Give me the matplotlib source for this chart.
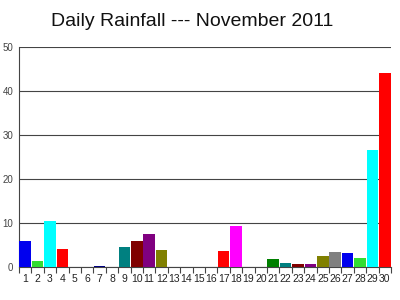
import matplotlib
matplotlib.use('Agg')
import matplotlib.pyplot as plt
import numpy as np

plt.rcParams['font.family'] = ['Liberation Sans', 'DejaVu Sans']

days = list(range(1, 31))
rain = [5.8, 1.4, 10.4, 4.1, 0.0, 0.0, 0.3, 0.0, 4.5, 5.9,
        7.6, 3.9, 0.0, 0.0, 0.0, 0.0, 3.6, 9.4, 0.0, 0.0,
        1.9, 0.8, 0.7, 0.7, 2.5, 3.4, 3.1, 2.1, 26.5, 44.0]
palette = ['#0000ee', '#33dd33', '#00ffff', '#ff0000', '#ff00ff', '#ffff00',
           '#000080', '#008000', '#008080', '#800000', '#800080', '#808000',
           '#808080']
colors = [palette[(d - 1) % 13] for d in days]

fig = plt.figure(figsize=(4, 3), dpi=100)
ax = fig.add_axes([0.0475, 0.11, 0.93, 0.733])

ax.bar(days, rain, width=0.92, color=colors, zorder=3)

ax.set_xlim(0.5, 30.5)
ax.set_ylim(0, 50)
ax.set_yticks([0, 10, 20, 30, 40, 50])
ax.grid(axis='y', color='#444444', linewidth=0.8, zorder=1)
for s in ['top', 'right']:
    ax.spines[s].set_visible(False)
ax.spines['left'].set_color('#444444')
ax.spines['bottom'].set_color('#444444')
ax.spines['left'].set_linewidth(0.8)
ax.spines['bottom'].set_linewidth(0.8)

ax.set_xticks(days)
ax.set_xticklabels([str(d) for d in days])
ax.set_xticks(np.arange(0.5, 31, 1), minor=True)
ax.tick_params(axis='x', which='major', length=0, labelsize=7.5, pad=5, colors='#222222')
ax.tick_params(axis='x', which='minor', length=4, color='#444444', width=0.8)
ax.tick_params(axis='y', length=0, labelsize=7, pad=4, colors='#444444')

fig.text(0.48, 0.93, 'Daily Rainfall --- November 2011', ha='center', va='center',
         fontsize=14, color='#111111')

fig.savefig('out.png', dpi=100)
